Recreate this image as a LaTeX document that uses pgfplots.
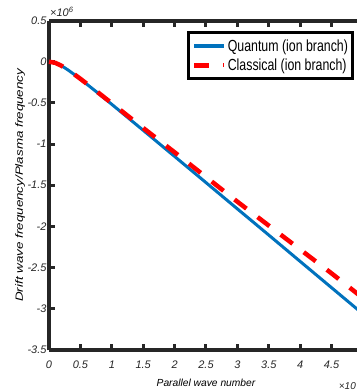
\documentclass[border=0pt]{standalone}
\usepackage{pgfplots}
\pgfplotsset{compat=1.18}
\usepackage{fontspec}
\setmainfont{Liberation Sans}
\definecolor{mblue}{RGB}{0,114,189}
\definecolor{axgray}{RGB}{38,38,38}
\begin{document}
\begin{tikzpicture}
\useasboundingbox (0,0) rectangle (357bp,392bp);
\begin{axis}[
  at={(49bp,42bp)}, anchor=south west,
  scale only axis, width=314bp, height=329.5bp,
  xmin=0, xmax=5, ymin=-3.5, ymax=0.5,
  xtick={0,0.5,...,4.5}, ytick={-3.5,-3,...,0.5},
  scaled ticks=false,
  /pgf/number format/assume math mode=true,
  axis line style={line width=4bp, draw=axgray},
  axis x line=box, axis y line=left,
  every outer x axis line/.append style={-},
  every outer y axis line/.append style={-},
  tick align=inside,
  major tick length=6bp,
  tick style={line width=3bp, draw=axgray},
  ticklabel style={font=\itshape\fontsize{11}{12}\selectfont, text=axgray},
  yticklabel style={xshift=1bp},
  xticklabel style={yshift=-7bp},
  xlabel={\itshape\fontsize{10.3}{12}\selectfont Parallel wave number},
  xlabel style={at={(axis description cs:0.5,-0.1)}, anchor=center},
  ylabel={\scalebox{1.28}[1]{\itshape\fontsize{10.5}{12}\selectfont Drift wave frequency/Plasma frequency}},
  ylabel style={at={(axis description cs:-0.092,0.5)}, anchor=center, rotate=0},
  legend style={at={(rel axis cs:0.9713,0.9667)}, anchor=north east,
    draw=black, line width=3bp, inner xsep=3bp, inner ysep=5bp,
    font=\fontsize{12.4}{14}\selectfont, row sep=3bp,
    nodes={inner sep=1.5bp}},
  legend cell align=left,
  clip=false,
]
\addplot[color=mblue, line width=3bp, legend image code/.code={\draw[color=mblue,line width=4bp] (0bp,0bp) -- (30bp,0bp);}] coordinates {
(0,0) (0.1,-0.014) (0.2,-0.050) (0.3,-0.099) (0.4,-0.154) (0.5,-0.211)
(0.75,-0.363) (1,-0.518) (1.5,-0.833) (2,-1.150) (2.5,-1.468) (3,-1.787)
(3.5,-2.105) (4,-2.425) (4.5,-2.744) (5,-3.063)};
\addlegendentry{\scalebox{1}[1.3]{Quantum (ion branch)}}
\addplot[color=red, line width=4.5bp, dash pattern=on 15bp off 14bp, legend image code/.code={\path (0bp,0bp) -- (30bp,0bp);\draw[color=red,line width=5bp] (0bp,0bp) -- (15bp,0bp);}] coordinates {
(0,0) (0.1,-0.014) (0.2,-0.050) (0.3,-0.098) (0.4,-0.152) (0.5,-0.208)
(0.75,-0.355) (1,-0.505) (1.5,-0.805) (2,-1.100) (2.5,-1.400) (3,-1.700)
(3.5,-1.990) (4,-2.280) (4.5,-2.570) (5,-2.870)};
\addlegendentry{\scalebox{1}[1.3]{Classical (ion branch)}}
\node[anchor=base west, inner sep=0, font=\itshape\fontsize{11}{12}\selectfont, text=axgray] at ([xshift=1bp,yshift=4bp]rel axis cs:0,1) {×10\textsuperscript{6}};
\end{axis}
\node[anchor=base east, inner sep=0, font=\itshape\fontsize{10}{12}\selectfont, text=axgray] at (356bp,3bp) {×10};
\end{tikzpicture}
\end{document}
